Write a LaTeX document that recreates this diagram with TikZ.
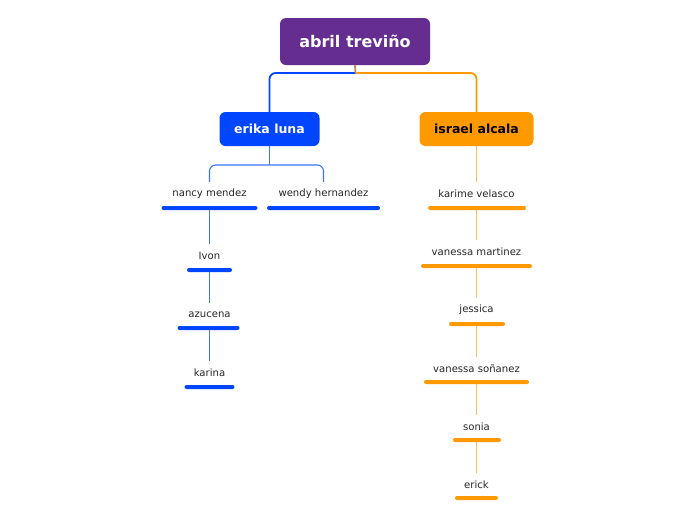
\documentclass[tikz,border=0pt]{standalone}
\usepackage{fontspec}
\setmainfont{DejaVu Sans}
\usetikzlibrary{positioning}

\definecolor{rootpurple}{RGB}{102,45,145}
\definecolor{teamblue}{RGB}{0,70,255}
\definecolor{teamorange}{RGB}{255,153,0}
\definecolor{stubbrown}{RGB}{190,140,90}
\definecolor{lineblue}{RGB}{60,115,255}
\definecolor{lineorange}{RGB}{255,190,100}

\begin{document}
\begin{tikzpicture}[
    x=1pt, y=-1pt,
    box/.style={rectangle, rounded corners=6pt, inner sep=0pt, align=center, font=\bfseries},
    rootbox/.style={box, fill=rootpurple, text=white, minimum width=150pt, minimum height=47pt, font=\bfseries\fontsize{16}{18}\selectfont},
    bluebox/.style={box, fill=teamblue, text=white, minimum width=100pt, minimum height=34pt, font=\bfseries\fontsize{12.5}{14}\selectfont},
    orangebox/.style={box, fill=teamorange, text=black, minimum width=114pt, minimum height=34pt, font=\bfseries\fontsize{12.5}{14}\selectfont},
    leaf/.style={inner sep=0pt, minimum height=24pt, text=black!85, font=\fontsize{10.1}{12}\selectfont},
    bar/.style={rectangle, rounded corners=2pt, inner sep=0pt, minimum height=4pt},
    bluebar/.style={bar, fill=teamblue},
    orangebar/.style={bar, fill=teamorange},
    mainline/.style={line width=1.8pt, rounded corners=6pt},
    blueline/.style={draw=lineblue, line width=1.1pt, rounded corners=6pt},
    orangeline/.style={draw=lineorange, line width=1.1pt}
  ]
    \useasboundingbox (0,0) rectangle (696,520);

    \node[rootbox] (root) at (355,41.5) {abril treviño};
    \node[bluebox] (erika) at (269.5,129) {erika luna};
    \node[orangebox] (israel) at (476.5,129) {israel alcala};

    \coordinate (rootsplit) at (355.5,73);
    \draw[mainline, teamblue] (rootsplit) -| (erika.north);
    \draw[mainline, teamorange] (rootsplit) -| (israel.north);
    \draw[line width=1.8pt, stubbrown] (root.south) -- (rootsplit);

    % erika luna
    \node[leaf] (nancy) at (209.5,194) {nancy mendez};
    \node[bluebar, minimum width=96pt] (nancybar) at (209.5,208) {};
    \node[leaf] (wendy) at (323.5,194) {wendy hernandez};
    \node[bluebar, minimum width=113pt] (wendybar) at (323.5,208) {};
    \node[leaf] (ivon) at (209.5,256) {Ivon};
    \node[bluebar, minimum width=45pt] (ivonbar) at (209.5,270) {};
    \node[leaf] (azucena) at (209.5,315) {azucena};
    \node[bluebar, minimum width=62pt] (azucenabar) at (208.5,328) {};
    \node[leaf] (karina) at (209.5,373) {karina};
    \node[bluebar, minimum width=50pt] (karinabar) at (209.5,387) {};

    \coordinate (erikasplit) at (269.5,165);
    \draw[blueline] (erika.south) -- (erikasplit);
    \draw[blueline] (erikasplit) -| (nancy.north);
    \draw[blueline] (erikasplit) -| (wendy.north);
    \draw[blueline] (nancybar.south) -- (ivon.north);
    \draw[blueline] (ivonbar.south) -- (azucena.north);
    \draw[blueline] (azucenabar.south -| karina.north) -- (karina.north);

    % israel alcala
    \node[leaf] (karime) at (476.5,194) {karime velasco};
    \node[orangebar, minimum width=98pt] (karimebar) at (477,208) {};
    \node[leaf] (martinez) at (476.5,252) {vanessa martinez};
    \node[orangebar, minimum width=111pt] (martinezbar) at (476.5,266) {};
    \node[leaf] (jessica) at (476.5,310) {jessica};
    \node[orangebar, minimum width=56pt] (jessicabar) at (477,324) {};
    \node[leaf] (sonanez) at (476.5,369) {vanessa soñanez};
    \node[orangebar, minimum width=105pt] (sonanezbar) at (476.5,382) {};
    \node[leaf] (sonia) at (476.5,427) {sonia};
    \node[orangebar, minimum width=48pt] (soniabar) at (477,440) {};
    \node[leaf] (erick) at (476.5,485) {erick};
    \node[orangebar, minimum width=43pt] (erickbar) at (476.5,498) {};

    \draw[orangeline] (israel.south) -- (karime.north);
    \foreach \a/\b in {karimebar/martinez, martinezbar/jessica, jessicabar/sonanez,
                       sonanezbar/sonia, soniabar/erick}
      \draw[orangeline] (\b.north) -- (\b.north |- \a.south);
\end{tikzpicture}
\end{document}
